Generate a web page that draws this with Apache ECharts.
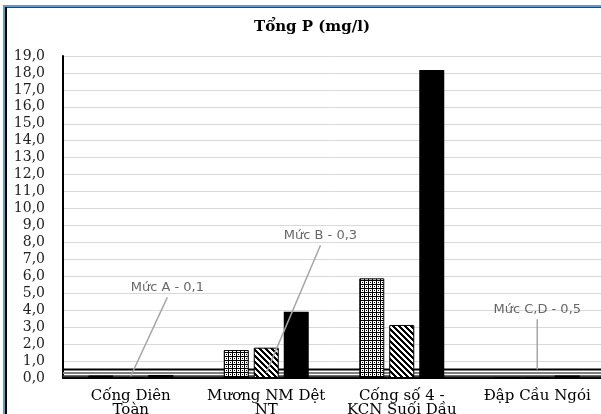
<!DOCTYPE html>
<html><head><meta charset="utf-8">
<script src="https://cdn.jsdelivr.net/npm/echarts@6/dist/echarts.min.js"></script>
<style>html,body{margin:0;padding:0;background:#fff}#c{width:601px;height:414px}</style>
</head><body><div id="c"></div>
<script>
// ---- data ----
const categories = ['Cống Diên\nToàn', 'Mương NM Dệt\nNT', 'Cống số 4 -\nKCN Suối Dầu', 'Đập Cầu Ngói'];
const seriesA = [0.15, 1.65, 5.88, 0.02];   // dotted pattern
const seriesB = [0.05, 1.79, 3.13, 0.02];   // diagonal stripes
const seriesC = [0.18, 3.91, 18.17, 0.15];  // solid black
const yMin = 0, yMax = 19, yStep = 1;
const limitNames = ['Mức A - 0,1', 'Mức B - 0,3', 'Mức C,D - 0,5'];
const limitValues = [0.1, 0.3, 0.5];
const limitCategory = [0, 1, 3];
const limitLabelAt = [[0.77, 5.31], [1.90, 8.38], [3.50, 4.01]];

// ---- patterns ----
function tile(size, fn) {
  const c = document.createElement('canvas'); c.width = size; c.height = size;
  const ctx = c.getContext('2d'); const img = ctx.createImageData(size, size);
  for (let y = 0; y < size; y++) for (let x = 0; x < size; x++) {
    const v = fn(x, y) ? 0 : 255; const i = (y * size + x) * 4;
    img.data[i] = img.data[i + 1] = img.data[i + 2] = v; img.data[i + 3] = 255;
  }
  ctx.putImageData(img, 0, 0); return c;
}
const dotTile = tile(4, (x, y) => x === 0 || y === 0 || (x === 2 && y === 2));
const stripeTile = tile(6, (x, y) => ((x - y + 12) % 6) < 3);

const limitColors = ['#3a3a3a', '#808080', '#000000'];
const series = [];
limitValues.forEach((v, i) => {
  series.push({ type: 'line', xAxisIndex: 1, z: 1, symbol: 'none', silent: true,
    lineStyle: { color: limitColors[i], width: 2 }, data: [[0, v], [categories.length, v]] });
  const lx = limitLabelAt[i][0], ly = limitLabelAt[i][1];
  series.push({ type: 'line', xAxisIndex: 1, z: 3, symbol: 'none', silent: true,
    lineStyle: { color: '#a6a6a6', width: 1.5 }, data: [[lx, ly - 0.55], [limitCategory[i] + 0.5, v]] });
  series.push({ type: 'scatter', xAxisIndex: 1, z: 4, symbolSize: 1, silent: true,
    itemStyle: { color: 'transparent' },
    label: { show: true, position: 'inside', formatter: limitNames[i], color: '#404040',
      fontFamily: 'DejaVu Sans', fontSize: 13 },
    data: [[lx, ly]] });
});
const barCommon = { type: 'bar', barWidth: 25, barGap: '20%', z: 2 };
series.push(Object.assign({}, barCommon, { name: 'A', data: seriesA,
  itemStyle: { color: { image: dotTile, repeat: 'repeat' }, borderColor: '#000', borderWidth: 1 } }));
series.push(Object.assign({}, barCommon, { name: 'B', data: seriesB,
  itemStyle: { color: { image: stripeTile, repeat: 'repeat' }, borderColor: '#000', borderWidth: 1 } }));
series.push(Object.assign({}, barCommon, { name: 'C', data: seriesC,
  itemStyle: { color: '#000' } }));

const chart = echarts.init(document.getElementById('c'), null, { renderer: 'canvas' });
chart.setOption({
  animation: false,
  backgroundColor: '#fff',
  title: { text: 'Tổng P (mg/l)', left: 307, top: 15, textAlign: 'center',
    textStyle: { fontFamily: 'DejaVu Serif', fontWeight: 'bold', fontSize: 15, color: '#000' } },
  grid: { left: 63, right: -4, top: 56, bottom: 36, containLabel: false, outerBoundsMode: 'none' },
  xAxis: [
    { type: 'category', data: categories,
      axisLine: { lineStyle: { color: '#000', width: 2 } }, axisTick: { show: false },
      axisLabel: { interval: 0, margin: 11, color: '#000', fontFamily: 'DejaVu Serif', fontSize: 15, lineHeight: 14 } },
    { type: 'value', min: 0, max: categories.length, show: false }
  ],
  yAxis: { type: 'value', min: yMin, max: yMax, interval: yStep,
    axisLine: { show: true, lineStyle: { color: '#000', width: 2 } }, axisTick: { show: false },
    splitLine: { lineStyle: { color: '#d9d9d9', width: 1 } },
    axisLabel: { margin: 18, color: '#222', fontFamily: 'DejaVu Serif', fontSize: 14,
      formatter: v => v.toFixed(1).replace('.', ',') } },
  graphic: [
    { type: 'rect', shape: { x: 3, y: 5, width: 598, height: 2 }, style: { fill: '#5b9bd5' }, z: 100 },
    { type: 'rect', shape: { x: 3, y: 5, width: 2, height: 409 }, style: { fill: '#5b9bd5' }, z: 100 },
    { type: 'rect', shape: { x: 5, y: 7, width: 596, height: 1 }, style: { fill: '#404040' }, z: 100 },
    { type: 'rect', shape: { x: 5, y: 7, width: 2, height: 407 }, style: { fill: '#000' }, z: 100 }
  ],
  series: series
});
</script></body></html>
